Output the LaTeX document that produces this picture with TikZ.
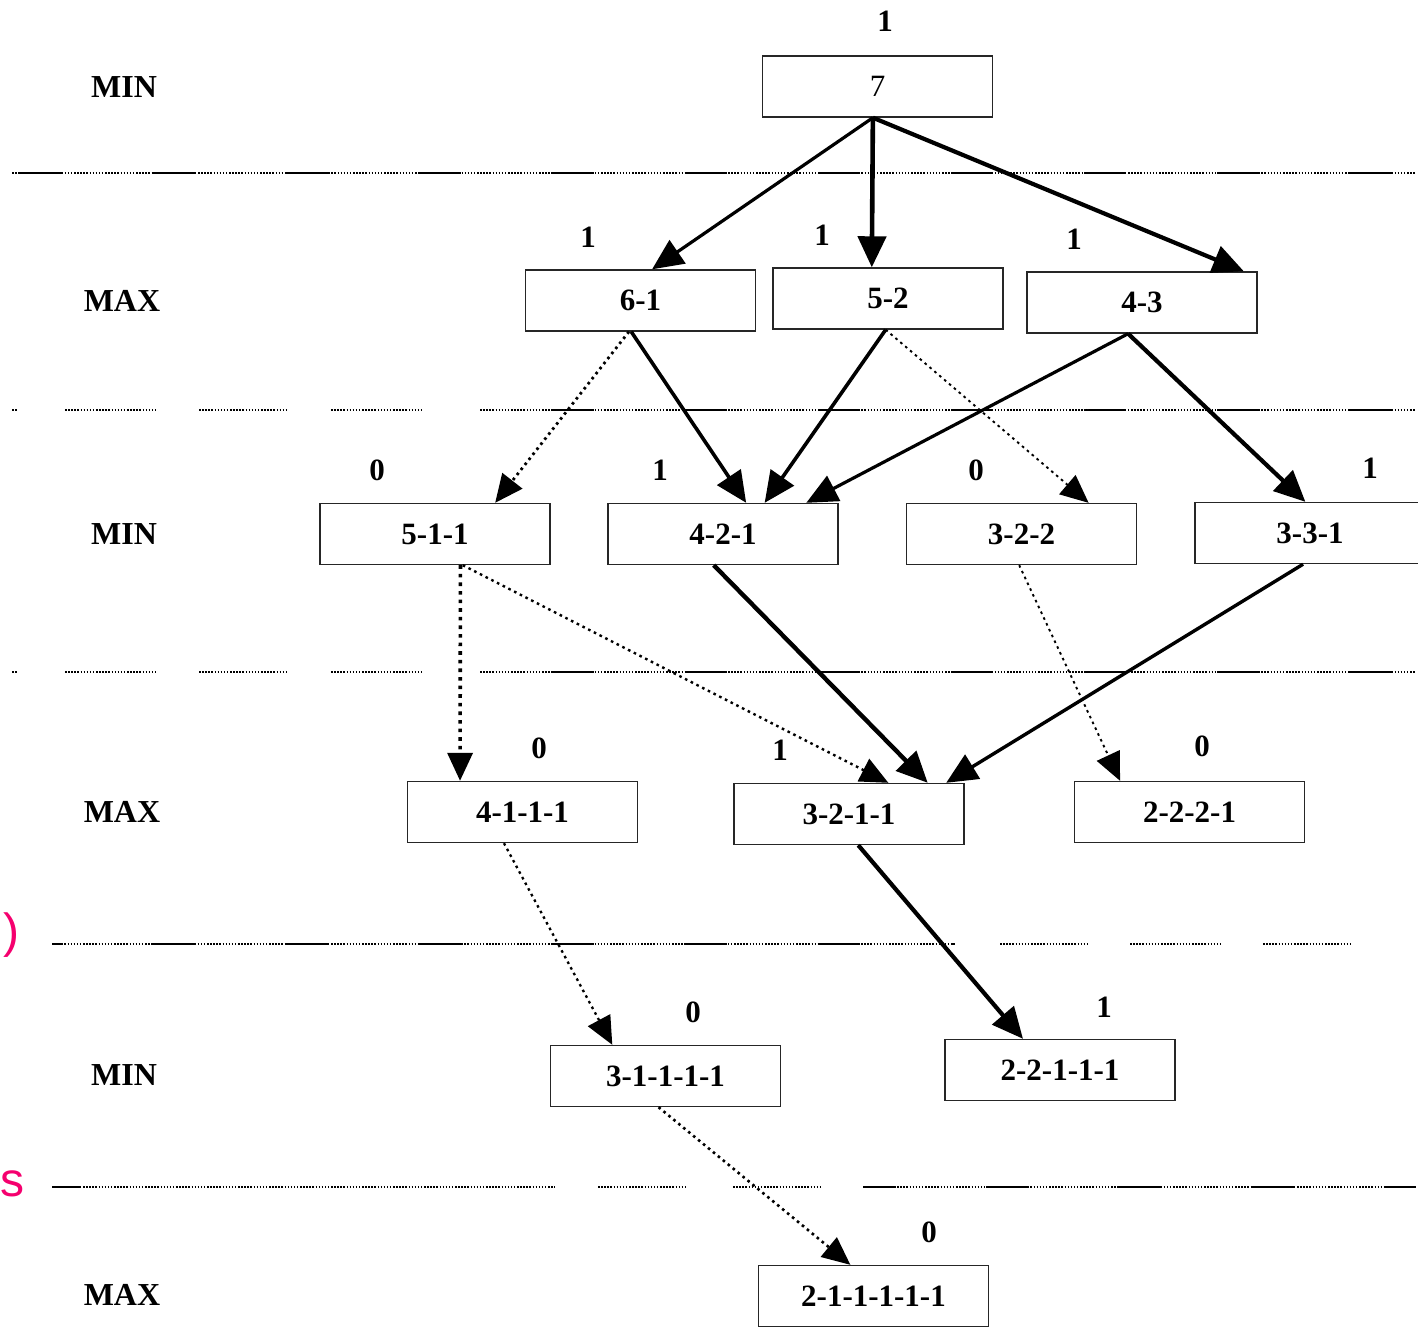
\documentclass[tikz,border=0pt]{standalone}
\usepackage{fontspec}
\setmainfont{Liberation Serif}
\newfontfamily\sidefont{Liberation Sans}
\usetikzlibrary{calc,arrows.meta}
\definecolor{sidepink}{RGB}{245,0,110}

% points along the bottom / top edge of a box
\newcommand\btm[2]{($(#1.south west)!#2!(#1.south east)$)}
\newcommand\tp[2]{($(#1.north west)!#2!(#1.north east)$)}

\begin{document}
\begin{tikzpicture}[x=1pt,y=-1pt,
  box/.style={draw=black!85, fill=white, line width=1.4pt, rectangle,
    minimum width=230pt, minimum height=61pt, inner sep=0pt,
    font=\fontsize{31}{31}\selectfont\bfseries},
  lvl/.style={font=\fontsize{32}{32}\selectfont\bfseries},
  val/.style={font=\fontsize{31}{31}\selectfont\bfseries},
  seprule/.style={line width=1.3pt, dash pattern=on 1.5pt off 1.6pt},
  sepbar/.style={line width=2pt, dash pattern=on 42pt off 91pt},
  solidarrow/.style={line width=3.6pt, -{Triangle[length=31pt,width=28pt]}},
  dotarrow/.style={line width=2.4pt, dash pattern=on 2.6pt off 3.8pt,
    -{Triangle[length=28pt,width=25pt]}},
  sidenote/.style={inner sep=0pt, text=sidepink,
    font=\sidefont\fontsize{48}{48}\selectfont},
]
\useasboundingbox (0,0) rectangle (1418,1327);

% ---- level separators ----
\draw[seprule] (12,173) -- (1415,173);
\draw[sepbar, dash phase=125] (12,173) -- (1415,173);

\foreach \yy in {410,672}{
  \draw[seprule] (12,\yy) -- (18,\yy);
  \draw[seprule] (65,\yy) -- (155,\yy);
  \draw[seprule] (199,\yy) -- (287,\yy);
  \draw[seprule] (331,\yy) -- (421,\yy);
  \draw[seprule] (480,\yy) -- (1415,\yy);
  \draw[sepbar, dash phase=61] (480,\yy) -- (1415,\yy);
}

\draw[seprule] (52,944) -- (955,944);
\draw[sepbar, dash phase=32] (52,944) -- (955,944);
\draw[seprule] (1000,944) -- (1087,944);
\draw[seprule] (1130,944) -- (1220,944);
\draw[seprule] (1263,944) -- (1350,944);

\draw[seprule] (52,1187) -- (555,1187);
\draw[line width=2pt] (52,1187) -- (80,1187);
\draw[seprule] (598,1187) -- (685,1187);
\draw[seprule] (733,1187) -- (820,1187);
\draw[seprule] (863,1187) -- (1415,1187);
\draw[sepbar, dash phase=10] (863,1187) -- (1415,1187);

% ---- side notes ----
\node[sidenote, anchor=base west] (noteA) at (3,947) {)};
\node[sidenote, anchor=base west] (noteB) at (0,1196) {s};

% ---- level names ----
\node[lvl] (L0) at (124,87) {MIN};
\node[lvl] (L1) at (122,301) {MAX};
\node[lvl] (L2) at (124,534) {MIN};
\node[lvl] (L3) at (122,812) {MAX};
\node[lvl] (L4) at (124,1075) {MIN};
\node[lvl] (L5) at (122,1295) {MAX};

% ---- game states ----
\node[box] (r) at (877.5,86.5) {\mdseries 7};
\node[box] (a) at (640.5,300.5) {6-1};
\node[box] (b) at (888,298.5) {5-2};
\node[box] (c) at (1142,302.5) {4-3};
\node[box] (d) at (435,534) {5-1-1};
\node[box] (e) at (723,534) {4-2-1};
\node[box] (f) at (1021.5,534) {3-2-2};
\node[box] (g) at (1310,533) {3-3-1};
\node[box] (h) at (522.5,812) {4-1-1-1};
\node[box] (i) at (849,814) {3-2-1-1};
\node[box] (j) at (1189.5,812) {2-2-2-1};
\node[box] (k) at (665.5,1076) {3-1-1-1-1};
\node[box] (l) at (1060,1070) {2-2-1-1-1};
\node[box] (m) at (873.5,1296) {2-1-1-1-1-1};

% ---- values ----
\node[val] (vr) at (885,21) {1};
\node[val] (va) at (588,237) {1};
\node[val] (vb) at (822,235) {1};
\node[val] (vc) at (1074,239) {1};
\node[val] (vd) at (377,470) {0};
\node[val] (ve) at (660,470) {1};
\node[val] (vf) at (976,470) {0};
\node[val] (vg) at (1370,468) {1};
\node[val] (vh) at (539,748) {0};
\node[val] (vi) at (780,750) {1};
\node[val] (vj) at (1202,746) {0};
\node[val] (vk) at (693,1012) {0};
\node[val] (vl) at (1104,1007) {1};
\node[val] (vm) at (929,1232) {0};

% ---- moves ----
\draw[solidarrow, line width=3.2pt] \btm{r}{0.48} -- \tp{a}{0.55};
\draw[solidarrow, line width=4.6pt] \btm{r}{0.48} -- \tp{b}{0.43};
\draw[solidarrow, line width=4.2pt] \btm{r}{0.48} -- \tp{c}{0.94};

\draw[dotarrow, line width=2.8pt] \btm{a}{0.45} -- \tp{d}{0.76};
\draw[solidarrow] \btm{a}{0.46} -- \tp{e}{0.60};
\draw[solidarrow] \btm{b}{0.49} -- \tp{e}{0.68};
\draw[dotarrow, line width=1.9pt] \btm{b}{0.49} -- \tp{f}{0.79};
\draw[solidarrow, line width=3.2pt] \btm{c}{0.44} -- \tp{e}{0.86};
\draw[solidarrow, line width=4.2pt] \btm{c}{0.44} -- \tp{g}{0.48};

\draw[dotarrow, line width=3.6pt, dash pattern=on 3.6pt off 5pt] \btm{d}{0.61} -- \tp{h}{0.23};
\draw[dotarrow, line width=2.4pt] \btm{d}{0.62} -- \tp{i}{0.67};
\draw[solidarrow, line width=4.4pt] \btm{e}{0.46} -- \tp{i}{0.84};
\draw[solidarrow, line width=3.4pt] \btm{g}{0.47} -- \tp{i}{0.92};
\draw[dotarrow, line width=1.9pt] \btm{f}{0.49} -- \tp{j}{0.20};

\draw[dotarrow, line width=2.3pt] \btm{h}{0.42} -- \tp{k}{0.27};
\draw[solidarrow, line width=4.2pt] \btm{i}{0.54} -- \tp{l}{0.34};
\draw[dotarrow, line width=2.6pt] \btm{k}{0.47} -- \tp{m}{0.40};
\end{tikzpicture}
\end{document}
